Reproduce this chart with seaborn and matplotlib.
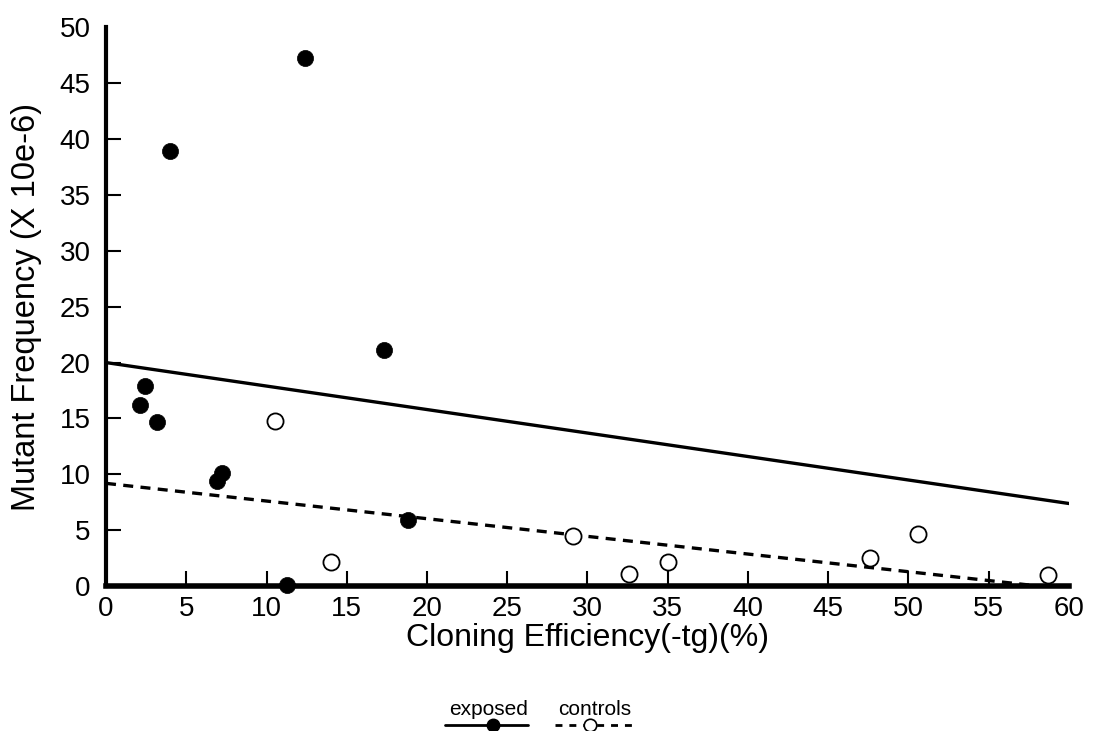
import matplotlib
matplotlib.use("Agg")
import matplotlib.pyplot as plt
import seaborn as sns
import numpy as np
import pandas as pd
from matplotlib.lines import Line2D

# ---- data ----
exposed_x = [2.1, 2.4, 3.2, 4.0, 6.9, 7.2, 11.3, 12.4, 17.3, 18.8]
exposed_y = [16.2, 17.9, 14.7, 38.9, 9.4, 10.1, 0.1, 47.2, 21.1, 5.9]
control_x = [10.5, 14.0, 29.1, 32.6, 35.0, 47.6, 50.6, 58.7]
control_y = [14.8, 2.2, 4.5, 1.1, 2.2, 2.5, 4.7, 1.0]
# fitted regression lines: intercept, slope, x-range
exposed_fit = [20.0, -0.21]
exposed_fit_range = [0, 60]
control_fit = [9.2, -0.158]
control_fit_range = [0, 58]
x_ticks = list(range(0, 65, 5))
y_ticks = list(range(0, 55, 5))
legend_labels = ["exposed", "controls"]

sns.set_theme(style="white")
plt.rcParams['font.family'] = ['Liberation Sans', 'DejaVu Sans']
plt.rcParams['text.color'] = 'black'
plt.rcParams['axes.labelcolor'] = 'black'
plt.rcParams['xtick.color'] = 'black'
plt.rcParams['ytick.color'] = 'black'

fig = plt.figure(figsize=(10.93, 7.31), dpi=100)
ax = fig.add_axes([0.097, 0.198, 0.881, 0.765])

ex_df = pd.DataFrame({"x": exposed_x, "y": exposed_y})
ct_df = pd.DataFrame({"x": control_x, "y": control_y})

fx = np.array(exposed_fit_range, dtype=float)
line_ex = pd.DataFrame({"x": fx, "y": exposed_fit[0] + exposed_fit[1] * fx})
cx = np.array(control_fit_range, dtype=float)
line_ct = pd.DataFrame({"x": cx, "y": control_fit[0] + control_fit[1] * cx})

sns.lineplot(data=line_ex, x="x", y="y", ax=ax, color="black", lw=2.4)
sns.lineplot(data=line_ct, x="x", y="y", ax=ax, color="black", lw=2.4,
             linestyle=(0, (3, 2.2)))

sns.scatterplot(data=ex_df, x="x", y="y", ax=ax, color="black", s=135,
                edgecolor="black", linewidth=0.5, clip_on=False, zorder=5)
sns.scatterplot(data=ct_df, x="x", y="y", ax=ax, facecolor="white", s=135,
                edgecolor="black", linewidth=1.3, clip_on=False, zorder=5)

ax.set_xlim(0, 60)
ax.set_ylim(0, 50)
ax.set_xticks(x_ticks)
ax.set_yticks(y_ticks)
ax.set_xticklabels([str(t) for t in x_ticks], fontsize=20)
ax.set_yticklabels([str(t) for t in y_ticks], fontsize=20)
ax.tick_params(axis="both", direction="in", length=11, width=1.5, colors="black",
               left=True, bottom=True)
ax.tick_params(axis="y", pad=11)
ax.tick_params(axis="x", pad=7)
# no tick marks at the axis ends
ax.xaxis.get_major_ticks()[0].tick1line.set_visible(False)
ax.xaxis.get_major_ticks()[-1].tick1line.set_visible(False)
ax.yaxis.get_major_ticks()[0].tick1line.set_visible(False)
ax.yaxis.get_major_ticks()[-1].tick1line.set_visible(False)
for s in ["top", "right"]:
    ax.spines[s].set_visible(False)
ax.spines["left"].set_linewidth(3)
ax.spines["bottom"].set_linewidth(4)
ax.spines["left"].set_color("black")
ax.spines["bottom"].set_color("black")

ax.set_xlabel("Cloning Efficiency(-tg)(%)", fontsize=23, va="top")
ax.set_ylabel("Mutant Frequency (X 10e-6)", fontsize=23.5)
ax.xaxis.set_label_coords(0.5, -0.066)
ax.yaxis.set_label_coords(-0.066, 0.5)

# legend (text above sample line)
fig.text(0.447, 0.022, legend_labels[0], fontsize=15, ha="center", va="baseline")
fig.text(0.544, 0.022, legend_labels[1], fontsize=15, ha="center", va="baseline")
fig.add_artist(Line2D([0.407, 0.483], [0.008, 0.008], transform=fig.transFigure,
                      color="black", lw=2))
fig.add_artist(Line2D([0.451], [0.008], transform=fig.transFigure, marker="o",
                      markersize=9, color="black"))
fig.add_artist(Line2D([0.508, 0.581], [0.008, 0.008], transform=fig.transFigure,
                      color="black", lw=2, linestyle=(0, (2.5, 2.5))))
fig.add_artist(Line2D([0.540], [0.008], transform=fig.transFigure, marker="o",
                      markersize=9, markerfacecolor="white", markeredgecolor="black",
                      markeredgewidth=1.2, color="black", linestyle="none"))

fig.savefig("out.png", dpi=100, facecolor="white")
